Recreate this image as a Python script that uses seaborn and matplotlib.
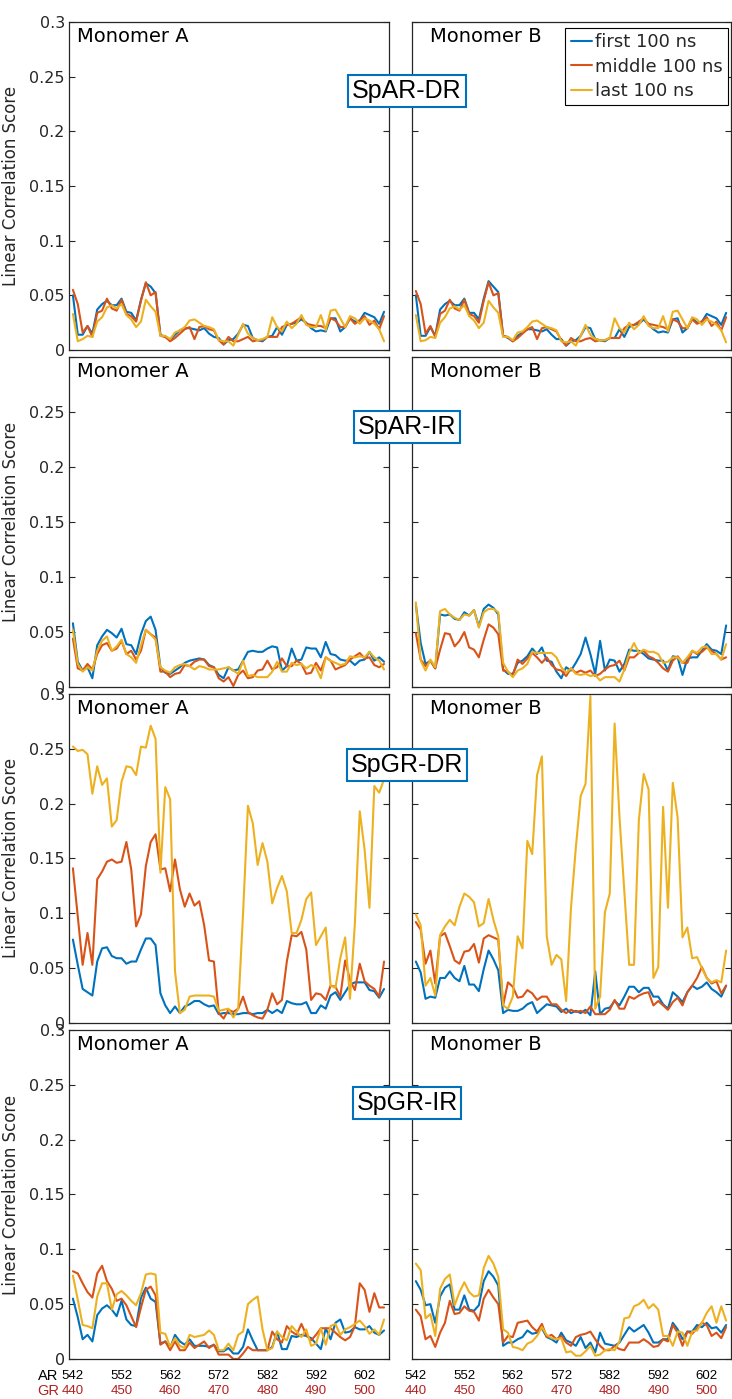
import numpy as np
import pandas as pd
import matplotlib
matplotlib.use("Agg")
import matplotlib.pyplot as plt
import seaborn as sns

# residues (AR numbering) and the GR numbering used in the lower axis rows
residues = list(range(542, 607))
ar_ticks = [542, 552, 562, 572, 582, 592, 602]
gr_ticks = [440, 450, 460, 470, 480, 490, 500]
y_ticks = [0, 0.05, 0.1, 0.15, 0.2, 0.25, 0.3]
y_tick_labels = ["0", "0.05", "0.1", "0.15", "0.2", "0.25", "0.3"]

periods = ["first 100 ns", "middle 100 ns", "last 100 ns"]
systems = ["SpAR-DR", "SpAR-IR", "SpGR-DR", "SpGR-IR"]
monomers = ["Monomer A", "Monomer B"]

# ---- SpAR-DR ----
ardr_a_first = [0.050, 0.014, 0.014, 0.022, 0.015, 0.037, 0.042, 0.045, 0.041, 0.041,
                0.047, 0.035, 0.034, 0.027, 0.046, 0.061, 0.058, 0.052, 0.014, 0.012,
                0.009, 0.014, 0.018, 0.020, 0.020, 0.019, 0.018, 0.020, 0.015, 0.012,
                0.011, 0.005, 0.009, 0.010, 0.015, 0.023, 0.022, 0.011, 0.009, 0.008,
                0.012, 0.013, 0.021, 0.014, 0.023, 0.024, 0.025, 0.028, 0.025, 0.020,
                0.017, 0.018, 0.017, 0.029, 0.029, 0.017, 0.021, 0.029, 0.026, 0.027,
                0.034, 0.032, 0.030, 0.024, 0.035]
ardr_a_middle = [0.055, 0.042, 0.016, 0.022, 0.012, 0.034, 0.036, 0.047, 0.038, 0.036,
                 0.046, 0.033, 0.031, 0.026, 0.045, 0.062, 0.050, 0.053, 0.013, 0.012,
                 0.008, 0.011, 0.015, 0.019, 0.021, 0.010, 0.021, 0.022, 0.019, 0.018,
                 0.009, 0.005, 0.012, 0.008, 0.008, 0.010, 0.012, 0.008, 0.009, 0.009,
                 0.012, 0.012, 0.012, 0.021, 0.023, 0.024, 0.027, 0.030, 0.024, 0.023,
                 0.022, 0.022, 0.020, 0.029, 0.027, 0.021, 0.021, 0.029, 0.024, 0.027,
                 0.031, 0.023, 0.027, 0.019, 0.031]
ardr_a_last = [0.033, 0.008, 0.010, 0.013, 0.012, 0.026, 0.030, 0.039, 0.041, 0.038,
               0.042, 0.032, 0.028, 0.021, 0.026, 0.046, 0.040, 0.035, 0.013, 0.013,
               0.010, 0.016, 0.018, 0.021, 0.027, 0.028, 0.025, 0.022, 0.021, 0.019,
               0.009, 0.008, 0.008, 0.004, 0.014, 0.024, 0.015, 0.011, 0.009, 0.010,
               0.012, 0.030, 0.021, 0.017, 0.026, 0.020, 0.024, 0.032, 0.023, 0.021,
               0.021, 0.032, 0.018, 0.036, 0.037, 0.029, 0.021, 0.031, 0.029, 0.024,
               0.029, 0.027, 0.024, 0.019, 0.008]
ardr_b_first = [0.050, 0.013, 0.013, 0.021, 0.013, 0.037, 0.042, 0.045, 0.041, 0.041,
                0.047, 0.034, 0.034, 0.028, 0.047, 0.063, 0.058, 0.053, 0.013, 0.011,
                0.008, 0.013, 0.016, 0.019, 0.019, 0.018, 0.017, 0.019, 0.014, 0.010,
                0.010, 0.004, 0.008, 0.009, 0.013, 0.021, 0.020, 0.010, 0.009, 0.008,
                0.011, 0.011, 0.019, 0.012, 0.021, 0.023, 0.024, 0.028, 0.023, 0.019,
                0.016, 0.017, 0.016, 0.028, 0.029, 0.016, 0.020, 0.029, 0.025, 0.026,
                0.033, 0.031, 0.029, 0.023, 0.034]
ardr_b_middle = [0.054, 0.042, 0.015, 0.022, 0.012, 0.033, 0.036, 0.046, 0.038, 0.036,
                 0.046, 0.033, 0.031, 0.025, 0.045, 0.062, 0.050, 0.052, 0.013, 0.012,
                 0.008, 0.011, 0.015, 0.019, 0.021, 0.010, 0.020, 0.021, 0.019, 0.017,
                 0.009, 0.004, 0.011, 0.008, 0.008, 0.010, 0.011, 0.008, 0.009, 0.009,
                 0.011, 0.011, 0.011, 0.020, 0.023, 0.023, 0.026, 0.029, 0.024, 0.023,
                 0.022, 0.021, 0.019, 0.028, 0.026, 0.020, 0.020, 0.028, 0.024, 0.026,
                 0.030, 0.022, 0.026, 0.018, 0.030]
ardr_b_last = [0.032, 0.008, 0.009, 0.012, 0.011, 0.025, 0.030, 0.038, 0.040, 0.037,
               0.041, 0.031, 0.027, 0.020, 0.025, 0.045, 0.039, 0.034, 0.012, 0.012,
               0.009, 0.016, 0.017, 0.021, 0.026, 0.027, 0.024, 0.021, 0.020, 0.018,
               0.008, 0.007, 0.008, 0.004, 0.013, 0.023, 0.014, 0.010, 0.009, 0.009,
               0.011, 0.029, 0.020, 0.016, 0.025, 0.019, 0.023, 0.031, 0.022, 0.020,
               0.020, 0.031, 0.017, 0.035, 0.036, 0.028, 0.020, 0.030, 0.028, 0.023,
               0.028, 0.026, 0.023, 0.018, 0.007]

# ---- SpAR-IR ----
arir_a_first = [0.058, 0.023, 0.015, 0.018, 0.008, 0.038, 0.046, 0.052, 0.049, 0.045,
                0.053, 0.039, 0.038, 0.030, 0.048, 0.060, 0.064, 0.052, 0.018, 0.013,
                0.012, 0.015, 0.018, 0.022, 0.024, 0.025, 0.026, 0.025, 0.020, 0.018,
                0.011, 0.008, 0.018, 0.015, 0.016, 0.024, 0.032, 0.033, 0.032, 0.032,
                0.035, 0.037, 0.036, 0.015, 0.019, 0.035, 0.024, 0.025, 0.036, 0.035,
                0.035, 0.027, 0.041, 0.030, 0.029, 0.025, 0.024, 0.024, 0.020, 0.024,
                0.025, 0.032, 0.024, 0.027, 0.023]
arir_a_middle = [0.044, 0.017, 0.015, 0.021, 0.016, 0.030, 0.038, 0.040, 0.033, 0.035,
                 0.042, 0.030, 0.033, 0.025, 0.033, 0.052, 0.048, 0.045, 0.014, 0.014,
                 0.009, 0.012, 0.013, 0.020, 0.019, 0.023, 0.025, 0.025, 0.019, 0.018,
                 0.008, 0.005, 0.009, 0.001, 0.011, 0.015, 0.008, 0.009, 0.015, 0.016,
                 0.024, 0.016, 0.018, 0.026, 0.019, 0.019, 0.024, 0.021, 0.012, 0.013,
                 0.022, 0.015, 0.027, 0.024, 0.016, 0.018, 0.020, 0.025, 0.028, 0.031,
                 0.026, 0.027, 0.020, 0.018, 0.021]
arir_a_last = [0.052, 0.021, 0.014, 0.018, 0.015, 0.033, 0.042, 0.046, 0.033, 0.037,
               0.043, 0.030, 0.027, 0.022, 0.038, 0.052, 0.048, 0.043, 0.018, 0.015,
               0.013, 0.018, 0.020, 0.021, 0.019, 0.016, 0.019, 0.018, 0.016, 0.016,
               0.016, 0.017, 0.018, 0.015, 0.012, 0.024, 0.010, 0.011, 0.009, 0.009,
               0.009, 0.014, 0.023, 0.014, 0.014, 0.022, 0.020, 0.021, 0.017, 0.020,
               0.018, 0.008, 0.027, 0.024, 0.022, 0.020, 0.021, 0.028, 0.027, 0.028,
               0.027, 0.032, 0.027, 0.024, 0.016]
arir_b_first = [0.075, 0.040, 0.021, 0.024, 0.017, 0.066, 0.065, 0.066, 0.062, 0.061,
                0.068, 0.065, 0.070, 0.055, 0.071, 0.075, 0.072, 0.066, 0.016, 0.012,
                0.012, 0.022, 0.024, 0.028, 0.035, 0.030, 0.036, 0.024, 0.023, 0.014,
                0.008, 0.018, 0.015, 0.022, 0.030, 0.045, 0.030, 0.012, 0.042, 0.015,
                0.025, 0.024, 0.014, 0.021, 0.034, 0.033, 0.033, 0.030, 0.026, 0.025,
                0.024, 0.024, 0.015, 0.028, 0.027, 0.011, 0.026, 0.027, 0.027, 0.033,
                0.039, 0.034, 0.033, 0.030, 0.056]
arir_b_middle = [0.049, 0.025, 0.019, 0.024, 0.017, 0.034, 0.049, 0.048, 0.037, 0.042,
                 0.050, 0.036, 0.034, 0.027, 0.043, 0.057, 0.054, 0.048, 0.015, 0.014,
                 0.010, 0.025, 0.021, 0.026, 0.031, 0.027, 0.022, 0.027, 0.020, 0.016,
                 0.015, 0.010, 0.017, 0.013, 0.015, 0.013, 0.015, 0.010, 0.012, 0.016,
                 0.019, 0.020, 0.024, 0.015, 0.027, 0.027, 0.031, 0.033, 0.028, 0.026,
                 0.022, 0.017, 0.014, 0.024, 0.028, 0.022, 0.022, 0.033, 0.030, 0.032,
                 0.036, 0.033, 0.030, 0.025, 0.027]
arir_b_last = [0.077, 0.024, 0.015, 0.025, 0.018, 0.069, 0.071, 0.066, 0.063, 0.061,
               0.066, 0.065, 0.070, 0.054, 0.068, 0.071, 0.071, 0.068, 0.022, 0.014,
               0.009, 0.015, 0.017, 0.021, 0.032, 0.031, 0.031, 0.031, 0.031, 0.027,
               0.018, 0.013, 0.017, 0.012, 0.011, 0.012, 0.010, 0.011, 0.006, 0.009,
               0.009, 0.009, 0.005, 0.016, 0.031, 0.040, 0.031, 0.034, 0.032, 0.032,
               0.030, 0.022, 0.023, 0.027, 0.027, 0.022, 0.027, 0.033, 0.031, 0.036,
               0.037, 0.030, 0.030, 0.025, 0.039]

# ---- SpGR-DR ----
grdr_a_first = [0.076, 0.053, 0.031, 0.028, 0.025, 0.056, 0.068, 0.069, 0.061, 0.059,
                0.059, 0.054, 0.056, 0.056, 0.067, 0.077, 0.077, 0.071, 0.027, 0.016,
                0.009, 0.015, 0.009, 0.015, 0.017, 0.020, 0.020, 0.017, 0.015, 0.016,
                0.008, 0.009, 0.009, 0.008, 0.008, 0.009, 0.009, 0.008, 0.009, 0.009,
                0.012, 0.009, 0.012, 0.009, 0.020, 0.018, 0.017, 0.017, 0.019, 0.009,
                0.009, 0.016, 0.013, 0.025, 0.028, 0.021, 0.028, 0.035, 0.037, 0.037,
                0.037, 0.030, 0.029, 0.023, 0.031]
grdr_a_middle = [0.141, 0.097, 0.053, 0.082, 0.053, 0.131, 0.138, 0.147, 0.149, 0.146,
                 0.147, 0.165, 0.140, 0.088, 0.099, 0.143, 0.165, 0.172, 0.140, 0.141,
                 0.120, 0.149, 0.122, 0.106, 0.118, 0.107, 0.111, 0.089, 0.057, 0.056,
                 0.009, 0.004, 0.012, 0.010, 0.013, 0.024, 0.010, 0.007, 0.005, 0.004,
                 0.012, 0.027, 0.017, 0.021, 0.056, 0.080, 0.079, 0.083, 0.067, 0.021,
                 0.027, 0.026, 0.021, 0.034, 0.033, 0.024, 0.057, 0.039, 0.030, 0.054,
                 0.038, 0.034, 0.031, 0.024, 0.056]
grdr_a_last = [0.252, 0.248, 0.249, 0.245, 0.209, 0.234, 0.217, 0.223, 0.179, 0.185,
               0.220, 0.234, 0.233, 0.226, 0.252, 0.251, 0.271, 0.259, 0.137, 0.215,
               0.204, 0.047, 0.009, 0.012, 0.024, 0.025, 0.025, 0.025, 0.025, 0.024,
               0.011, 0.012, 0.013, 0.005, 0.013, 0.100, 0.198, 0.182, 0.144, 0.164,
               0.147, 0.109, 0.123, 0.134, 0.120, 0.082, 0.082, 0.094, 0.113, 0.119,
               0.071, 0.079, 0.087, 0.034, 0.032, 0.059, 0.078, 0.022, 0.091, 0.193,
               0.158, 0.105, 0.216, 0.210, 0.222]
grdr_b_first = [0.056, 0.046, 0.022, 0.024, 0.023, 0.041, 0.041, 0.047, 0.041, 0.038,
                0.052, 0.035, 0.035, 0.029, 0.049, 0.066, 0.058, 0.048, 0.009, 0.012,
                0.011, 0.011, 0.013, 0.017, 0.019, 0.009, 0.013, 0.017, 0.016, 0.015,
                0.010, 0.013, 0.009, 0.011, 0.009, 0.012, 0.007, 0.047, 0.008, 0.013,
                0.014, 0.020, 0.016, 0.024, 0.033, 0.033, 0.028, 0.032, 0.032, 0.024,
                0.024, 0.017, 0.013, 0.028, 0.024, 0.019, 0.028, 0.034, 0.031, 0.033,
                0.037, 0.031, 0.028, 0.024, 0.034]
grdr_b_middle = [0.092, 0.085, 0.054, 0.066, 0.036, 0.079, 0.082, 0.070, 0.057, 0.054,
                 0.065, 0.066, 0.072, 0.055, 0.077, 0.080, 0.078, 0.076, 0.016, 0.037,
                 0.033, 0.023, 0.024, 0.030, 0.027, 0.021, 0.024, 0.024, 0.017, 0.017,
                 0.012, 0.009, 0.012, 0.010, 0.011, 0.009, 0.015, 0.008, 0.008, 0.008,
                 0.012, 0.021, 0.013, 0.013, 0.024, 0.022, 0.025, 0.027, 0.028, 0.016,
                 0.020, 0.016, 0.012, 0.019, 0.023, 0.016, 0.028, 0.034, 0.041, 0.051,
                 0.041, 0.036, 0.038, 0.027, 0.034]
grdr_b_last = [0.099, 0.089, 0.034, 0.041, 0.025, 0.080, 0.088, 0.094, 0.089, 0.106,
               0.118, 0.115, 0.110, 0.088, 0.091, 0.113, 0.094, 0.079, 0.016, 0.013,
               0.024, 0.079, 0.068, 0.166, 0.154, 0.226, 0.243, 0.079, 0.053, 0.062,
               0.058, 0.020, 0.105, 0.160, 0.207, 0.218, 0.298, 0.013, 0.024, 0.101,
               0.118, 0.273, 0.188, 0.120, 0.053, 0.053, 0.185, 0.227, 0.213, 0.041,
               0.051, 0.197, 0.105, 0.219, 0.187, 0.078, 0.087, 0.059, 0.060, 0.050,
               0.041, 0.037, 0.039, 0.037, 0.066]

# ---- SpGR-IR ----
grir_a_first = [0.055, 0.038, 0.018, 0.022, 0.016, 0.040, 0.046, 0.049, 0.045, 0.039,
                0.053, 0.036, 0.031, 0.030, 0.056, 0.065, 0.055, 0.052, 0.014, 0.016,
                0.010, 0.022, 0.016, 0.013, 0.018, 0.012, 0.012, 0.012, 0.011, 0.013,
                0.007, 0.007, 0.010, 0.005, 0.005, 0.011, 0.027, 0.017, 0.008, 0.008,
                0.008, 0.011, 0.025, 0.009, 0.009, 0.021, 0.020, 0.022, 0.021, 0.019,
                0.014, 0.009, 0.028, 0.018, 0.033, 0.036, 0.024, 0.025, 0.029, 0.027,
                0.027, 0.030, 0.024, 0.022, 0.026]
grir_a_middle = [0.080, 0.078, 0.069, 0.061, 0.056, 0.078, 0.085, 0.071, 0.064, 0.053,
                 0.055, 0.049, 0.039, 0.029, 0.047, 0.063, 0.066, 0.058, 0.013, 0.016,
                 0.008, 0.016, 0.008, 0.008, 0.015, 0.010, 0.013, 0.016, 0.010, 0.013,
                 0.004, 0.004, 0.004, 0.000, 0.000, 0.005, 0.011, 0.008, 0.008, 0.008,
                 0.008, 0.025, 0.018, 0.015, 0.030, 0.025, 0.022, 0.032, 0.022, 0.017,
                 0.022, 0.028, 0.028, 0.028, 0.024, 0.020, 0.017, 0.020, 0.030, 0.069,
                 0.063, 0.043, 0.060, 0.047, 0.047]
grir_a_last = [0.076, 0.054, 0.031, 0.030, 0.028, 0.057, 0.069, 0.069, 0.045, 0.059,
               0.062, 0.058, 0.053, 0.049, 0.060, 0.077, 0.078, 0.077, 0.024, 0.023,
               0.011, 0.019, 0.012, 0.010, 0.022, 0.020, 0.021, 0.022, 0.026, 0.022,
               0.008, 0.008, 0.014, 0.008, 0.022, 0.025, 0.050, 0.054, 0.057, 0.027,
               0.008, 0.010, 0.025, 0.020, 0.017, 0.030, 0.025, 0.020, 0.027, 0.012,
               0.014, 0.028, 0.013, 0.030, 0.032, 0.022, 0.027, 0.029, 0.032, 0.035,
               0.030, 0.023, 0.027, 0.022, 0.036]
grir_b_first = [0.071, 0.063, 0.049, 0.050, 0.033, 0.057, 0.065, 0.068, 0.045, 0.045,
                0.058, 0.045, 0.044, 0.049, 0.071, 0.080, 0.075, 0.067, 0.012, 0.015,
                0.015, 0.018, 0.020, 0.026, 0.023, 0.024, 0.028, 0.020, 0.018, 0.015,
                0.024, 0.017, 0.015, 0.012, 0.020, 0.010, 0.015, 0.006, 0.024, 0.014,
                0.013, 0.012, 0.015, 0.022, 0.029, 0.025, 0.028, 0.031, 0.024, 0.015,
                0.015, 0.018, 0.018, 0.033, 0.027, 0.018, 0.025, 0.025, 0.031, 0.029,
                0.033, 0.028, 0.029, 0.024, 0.031]
grir_b_middle = [0.045, 0.039, 0.018, 0.021, 0.011, 0.024, 0.033, 0.053, 0.041, 0.042,
                 0.048, 0.044, 0.043, 0.035, 0.055, 0.063, 0.056, 0.050, 0.015, 0.021,
                 0.020, 0.033, 0.034, 0.035, 0.029, 0.025, 0.032, 0.020, 0.022, 0.018,
                 0.021, 0.015, 0.012, 0.020, 0.022, 0.023, 0.025, 0.018, 0.012, 0.008,
                 0.008, 0.012, 0.009, 0.008, 0.015, 0.015, 0.015, 0.018, 0.015, 0.011,
                 0.012, 0.018, 0.016, 0.031, 0.024, 0.012, 0.025, 0.023, 0.028, 0.033,
                 0.031, 0.021, 0.024, 0.019, 0.029]
grir_b_last = [0.087, 0.081, 0.037, 0.041, 0.021, 0.064, 0.073, 0.077, 0.049, 0.061,
               0.070, 0.061, 0.057, 0.058, 0.083, 0.094, 0.087, 0.075, 0.027, 0.024,
               0.011, 0.010, 0.008, 0.014, 0.016, 0.021, 0.029, 0.022, 0.019, 0.018,
               0.019, 0.006, 0.007, 0.003, 0.003, 0.007, 0.012, 0.003, 0.004, 0.008,
               0.009, 0.008, 0.016, 0.037, 0.038, 0.048, 0.050, 0.054, 0.046, 0.050,
               0.045, 0.021, 0.021, 0.012, 0.025, 0.024, 0.012, 0.025, 0.026, 0.033,
               0.042, 0.048, 0.033, 0.048, 0.035]

# rows x columns of panels, each (first, middle, last)
panels = [
    [(ardr_a_first, ardr_a_middle, ardr_a_last), (ardr_b_first, ardr_b_middle, ardr_b_last)],
    [(arir_a_first, arir_a_middle, arir_a_last), (arir_b_first, arir_b_middle, arir_b_last)],
    [(grdr_a_first, grdr_a_middle, grdr_a_last), (grdr_b_first, grdr_b_middle, grdr_b_last)],
    [(grir_a_first, grir_a_middle, grir_a_last), (grir_b_first, grir_b_middle, grir_b_last)],
]

palette = {"first 100 ns": "#0072BD", "middle 100 ns": "#D95319", "last 100 ns": "#EDB120"}
AXCOL = "#262626"

sns.set_style("ticks")
plt.rcParams["font.family"] = ["DejaVu Sans"]

fig = plt.figure(figsize=(7.32, 13.99), dpi=100)

col_left = [0.0943, 0.5628]
col_width = [0.437, 0.4358]
row_bottom = [0.7498, 0.5089, 0.2688, 0.0286]
row_height = [0.2345, 0.2359, 0.2352, 0.2352]
box_y = [1 - 91 / 1399, 1 - 427 / 1399, 1 - 765 / 1399, 1 - 1103 / 1399]

for r in range(4):
    for c in range(2):
        ax = fig.add_axes([col_left[c], row_bottom[r], col_width[c], row_height[r]])
        first, middle, last = panels[r][c]
        df = pd.DataFrame({
            "residue": residues * 3,
            "score": list(first) + list(middle) + list(last),
            "period": [periods[0]] * len(first) + [periods[1]] * len(middle) + [periods[2]] * len(last),
        })
        show_legend = (r == 0 and c == 1)
        sns.lineplot(data=df, x="residue", y="score", hue="period", hue_order=periods,
                     palette=palette, linewidth=1.5, ax=ax, legend=show_legend)

        ax.set_xlim(541.2, 607)
        ax.set_ylim(0, 0.3)
        ax.set_xticks([])
        ax.set_yticks(y_ticks)
        ax.set_xlabel("")
        for sp in ax.spines.values():
            sp.set_color(AXCOL)
            sp.set_linewidth(0.9)
        ax.tick_params(axis="y", direction="in", left=True, right=True, length=4,
                       width=0.8, color=AXCOL, labelsize=11.5, labelcolor=AXCOL, pad=3)
        if c == 0:
            labels = list(y_tick_labels)
            if r == 1:
                # the top label of this row is hidden under the row above in the original
                labels[-1] = ""
            ax.set_yticklabels(labels)
            ax.set_ylabel("Linear Correlation Score", fontsize=12, color=AXCOL)
            ax.yaxis.set_label_coords(-0.153, 0.5)
        else:
            ax.set_yticklabels([])
            ax.set_ylabel("")

        tx = 0.025 if c == 0 else 0.056
        ax.text(tx, 0.985, monomers[c], transform=ax.transAxes, ha="left", va="top",
                fontsize=14, color="black")

        if show_legend:
            h, l = ax.get_legend_handles_labels()
            leg = ax.legend(h, l, loc="upper right", bbox_to_anchor=(0.991, 0.982),
                            borderaxespad=0, fontsize=13, handlelength=1.2,
                            handletextpad=0.15, labelspacing=0.35, borderpad=0.3,
                            fancybox=False, framealpha=1, edgecolor="black")
            leg.get_frame().set_linewidth(0.8)

        if r == 3:
            tr = ax.get_xaxis_transform()
            for a, g in zip(ar_ticks, gr_ticks):
                ax.text(a, -0.052, str(a), transform=tr, ha="center", va="center",
                        fontsize=9.5, color="black", family="Liberation Sans")
                ax.text(g + 102, -0.097, str(g), transform=tr, ha="center", va="center",
                        fontsize=9.5, color="#B22222", family="Liberation Sans")
            if c == 0:
                ax.text(-0.066, -0.052, "AR", transform=ax.transAxes, ha="center",
                        va="center", fontsize=10.5, color="black", family="Liberation Sans")
                ax.text(-0.066, -0.097, "GR", transform=ax.transAxes, ha="center",
                        va="center", fontsize=10.5, color="#B22222", family="Liberation Sans")

for r in range(4):
    fig.text(407 / 732, box_y[r], systems[r], ha="center", va="center", fontsize=18,
             family="Liberation Sans", color="black", zorder=10,
             bbox=dict(boxstyle="square,pad=0.15", fc="white", ec="#0072BD", lw=1.5))

fig.savefig("out.png", dpi=100)
